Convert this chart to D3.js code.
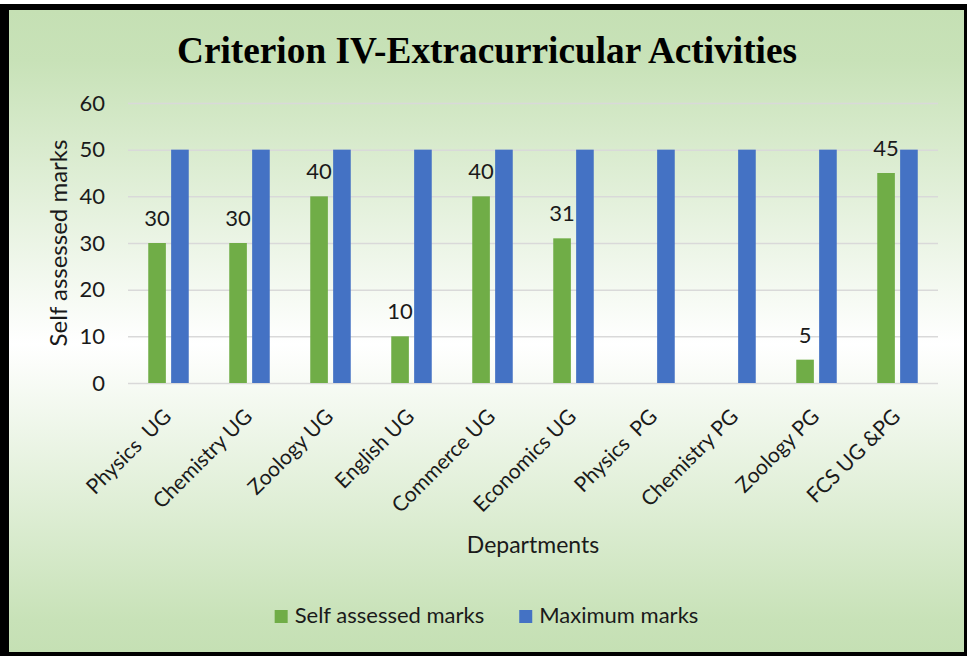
<!DOCTYPE html>
<html>
<head>
<meta charset="utf-8">
<script src="https://cdn.jsdelivr.net/npm/d3@7"></script>
<style>
  body { margin: 0; background: #ffffff; }
  svg { display: block; }
  text { font-family: Lato, "Open Sans", sans-serif; fill: #1a1a1a; }
</style>
</head>
<body>
<div id="chart"></div>
<script>
// chart values
const departments = ["Physics  UG", "Chemistry UG", "Zoology UG", "English UG", "Commerce UG",
    "Economics UG", "Physics  PG", "Chemistry PG", "Zoology PG", "FCS UG &PG"];
const selfMarks = [30, 30, 40, 10, 40, 31, null, null, 5, 45];
const maxMarks = [50, 50, 50, 50, 50, 50, 50, 50, 50, 50];
const seriesNames = ["Self assessed marks", "Maximum marks"];
const seriesColors = ["#70ad47", "#4472c4"];
const yTicks = [0, 10, 20, 30, 40, 50, 60];

const width = 967, height = 656;
const margin = { top: 103, right: 29, bottom: 273, left: 128 };

const svg = d3.select("#chart").append("svg")
    .attr("width", width)
    .attr("height", height);

// background gradient (green - white - green)
const grad = svg.append("defs").append("linearGradient")
    .attr("id", "bg").attr("x1", 0).attr("y1", 0).attr("x2", 0).attr("y2", 1);
grad.append("stop").attr("offset", "0").attr("stop-color", "#c5e0b4");
grad.append("stop").attr("offset", "0.08").attr("stop-color", "#c8e2b8");
grad.append("stop").attr("offset", "0.52").attr("stop-color", "#ffffff");
grad.append("stop").attr("offset", "0.95").attr("stop-color", "#c8e2b8");
grad.append("stop").attr("offset", "1").attr("stop-color", "#c5e0b4");

// black frame
svg.append("rect").attr("x", 0).attr("y", 4).attr("width", width).attr("height", height - 4)
    .attr("fill", "#000");
svg.append("rect").attr("x", 9).attr("y", 10).attr("width", 955).attr("height", 642)
    .attr("fill", "url(#bg)");

// title
svg.append("text")
    .attr("x", 177).attr("y", 63)
    .attr("textLength", 620)
    .attr("lengthAdjust", "spacingAndGlyphs")
    .style("font-family", "'Liberation Serif', 'Times New Roman', serif")
    .style("font-weight", "bold")
    .style("font-size", "38px")
    .style("fill", "#000")
    .text("Criterion IV-Extracurricular Activities");

const x = d3.scaleBand()
    .domain(departments)
    .range([margin.left, width - margin.right])
    .paddingInner(0.5)
    .paddingOuter(0.25);
const xs = d3.scaleBand()
    .domain(seriesNames)
    .range([0, x.bandwidth()])
    .paddingInner(0.23);
const y = d3.scaleLinear()
    .domain([0, 60])
    .range([height - margin.bottom, margin.top]);

// grid
const grid = d3.axisLeft(y)
    .tickValues(yTicks)
    .tickSize(-(width - margin.left - margin.right))
    .tickFormat("");
svg.append("g")
    .attr("transform", `translate(${margin.left},0)`)
    .call(grid)
    .call(g => g.select(".domain").remove())
    .call(g => g.selectAll("line").attr("stroke", "#d9d9d9").attr("stroke-width", 1.5));

// y axis labels
const yAxis = d3.axisLeft(y)
    .tickValues(yTicks)
    .tickSize(0)
    .tickPadding(23);
svg.append("g")
    .attr("transform", `translate(${margin.left},0)`)
    .call(yAxis)
    .call(g => g.select(".domain").remove())
    .call(g => g.selectAll("text")
        .style("font-family", "Lato, sans-serif")
        .style("font-size", "22px")
        .attr("fill", "#1a1a1a"));

// bars
const rows = departments.map((d, i) => ({ dept: d, vals: [selfMarks[i], maxMarks[i]] }));
const groups = svg.append("g").selectAll("g")
    .data(rows)
    .join("g")
    .attr("transform", d => `translate(${x(d.dept)},0)`);

groups.selectAll("rect")
    .data(d => d.vals.map((v, j) => ({ v, j })).filter(e => e.v != null))
    .join("rect")
    .attr("x", e => xs(seriesNames[e.j]))
    .attr("width", xs.bandwidth())
    .attr("y", e => y(e.v))
    .attr("height", e => y(0) - y(e.v))
    .attr("fill", e => seriesColors[e.j]);

// data labels on self assessed marks
groups.filter(d => d.vals[0] != null)
    .append("text")
    .attr("x", xs(seriesNames[0]) + xs.bandwidth() / 2)
    .attr("y", d => y(d.vals[0]) - 17)
    .attr("text-anchor", "middle")
    .style("font-size", "22px")
    .text(d => d.vals[0]);

// x axis labels (rotated)
const xAxis = d3.axisBottom(x).tickSize(0).tickPadding(0);
svg.append("g")
    .attr("transform", `translate(0,${y(0)})`)
    .call(xAxis)
    .call(g => g.select(".domain").remove())
    .call(g => g.selectAll("text")
        .style("font-family", "Lato, sans-serif")
        .style("font-size", "21px")
        .style("white-space", "pre")
        .attr("fill", "#1a1a1a")
        .attr("text-anchor", "end")
        .attr("dy", null)
        .attr("y", 0)
        .attr("transform", "translate(4,35) rotate(-45)"));

// axis titles
svg.append("text")
    .attr("transform", `translate(67,${(y(0) + y(60)) / 2}) rotate(-90)`)
    .attr("text-anchor", "middle")
    .style("font-size", "24px")
    .text("Self assessed marks");

svg.append("text")
    .attr("x", (x.range()[0] + x.range()[1]) / 2)
    .attr("y", 553)
    .attr("text-anchor", "middle")
    .style("font-size", "23px")
    .text("Departments");

// legend, centred in the chart area
const legend = svg.append("g").attr("transform", "translate(0,623)");
const items = legend.selectAll("g")
    .data(seriesNames)
    .join("g");
items.append("rect")
    .attr("y", -13).attr("width", 13).attr("height", 13)
    .attr("fill", (d, i) => seriesColors[i]);
items.append("text")
    .attr("x", 20)
    .style("font-size", "22px")
    .text(d => d);
let cursor = 0;
const widths = [];
items.each(function () {
    widths.push(this.querySelector("text").getComputedTextLength() + 20);
});
const gap = 35;
const total = d3.sum(widths) + gap * (widths.length - 1);
cursor = (9 + 964) / 2 - total / 2;
items.attr("transform", (d, i) => {
    const tx = cursor;
    cursor += widths[i] + gap;
    return `translate(${tx},0)`;
});
</script>
</body>
</html>
